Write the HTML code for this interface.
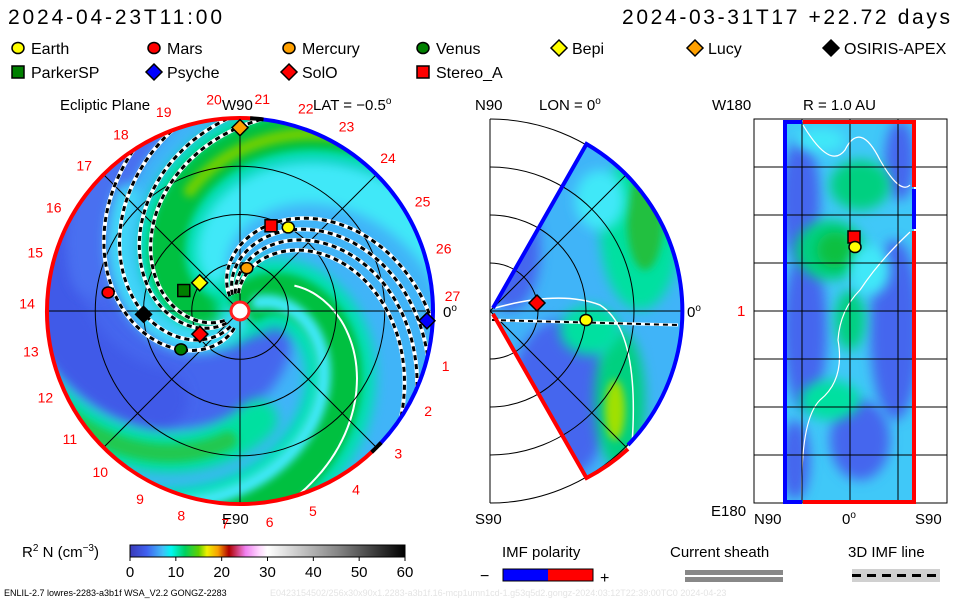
<!DOCTYPE html>
<html><head><meta charset="utf-8"><style>
html,body{margin:0;padding:0;background:#fff;}
svg{display:block;font-family:"Liberation Sans",sans-serif;}
</style></head><body>
<svg id="s" width="960" height="600" viewBox="0 0 960 600" xmlns="http://www.w3.org/2000/svg">
<defs>
 <clipPath id="discClip"><circle cx="240" cy="311" r="193"/></clipPath>
 <clipPath id="wedgeClip"><path d="M490,311 L586.5,143.9 A193,193 0 0 1 586.5,478.1 Z"/></clipPath>
 <clipPath id="rectClip"><rect x="785" y="122" width="129" height="380"/></clipPath>
 <linearGradient id="cbar" x1="0" x2="1" y1="0" y2="0">
  <stop offset="0" stop-color="#3a3ab8"/><stop offset="0.06" stop-color="#4060f0"/>
  <stop offset="0.12" stop-color="#40c0f8"/><stop offset="0.15" stop-color="#00f8f0"/>
  <stop offset="0.2" stop-color="#00d060"/><stop offset="0.25" stop-color="#60d000"/>
  <stop offset="0.28" stop-color="#f0f000"/><stop offset="0.32" stop-color="#f8a000"/>
  <stop offset="0.36" stop-color="#b00000"/><stop offset="0.42" stop-color="#f080f0"/>
  <stop offset="0.47" stop-color="#ffd8ff"/><stop offset="0.5" stop-color="#ffffff"/>
  <stop offset="0.75" stop-color="#888888"/><stop offset="1" stop-color="#000000"/>
 </linearGradient>
 <filter id="blur6" filterUnits="userSpaceOnUse" x="0" y="0" width="960" height="600"><feGaussianBlur stdDeviation="6"/></filter>
 <filter id="blur4" filterUnits="userSpaceOnUse" x="0" y="0" width="960" height="600"><feGaussianBlur stdDeviation="4"/></filter>
</defs>

<text x="8" y="24" font-size="21" textLength="214">2024-04-23T11:00</text>
<text x="622" y="24" font-size="21" textLength="328">2024-03-31T17 +22.72 days</text>

<g id="legend"></g>

<g id="ecl">
 <g clip-path="url(#discClip)" id="eclFill">
  <circle cx="240" cy="311" r="193" fill="#40b4f8"/>
 </g>
</g>
<g id="mer"></g>
<g id="sph"></g>

<g font-size="15">
 <text x="60" y="110">Ecliptic Plane</text>
 <text x="313" y="110">LAT = −0.5<tspan font-size="10" dy="-6">o</tspan></text>
 <text x="222" y="110">W90</text>
 <text x="222" y="524">E90</text>
 <text x="443" y="317">0<tspan font-size="10" dy="-6">o</tspan></text>
 <text x="475" y="110">N90</text>
 <text x="539" y="110">LON = 0<tspan font-size="10" dy="-6">o</tspan></text>
 <text x="475" y="524">S90</text>
 <text x="687" y="317">0<tspan font-size="10" dy="-6">o</tspan></text>
 <text x="712" y="110">W180</text>
 <text x="803" y="110">R = 1.0 AU</text>
 <text x="737" y="316" fill="#f00">1</text>
 <text x="711" y="516">E180</text>
 <text x="754" y="524">N90</text>
 <text x="842" y="524">0<tspan font-size="10" dy="-6">o</tspan></text>
 <text x="915" y="524">S90</text>
</g>

<g id="cbarG">
 <text x="22" y="557" font-size="15">R<tspan font-size="10" dy="-6">2</tspan><tspan dy="6"> N (cm</tspan><tspan font-size="10" dy="-6">−3</tspan><tspan dy="6">)</tspan></text>
 <rect x="130" y="545" width="275" height="12" fill="url(#cbar)" stroke="#000" stroke-width="1"/>
</g>

<g>
 <text x="502" y="557" font-size="15">IMF polarity</text>
 <text x="480" y="581" font-size="16">−</text>
 <rect x="503" y="569" width="45" height="12" fill="#0000ff"/>
 <rect x="548" y="569" width="45" height="12" fill="#ff0000"/>
 <rect x="503" y="569" width="90" height="12" fill="none" stroke="#000"/>
 <text x="600" y="583" font-size="16">+</text>
</g>
<g>
 <text x="670" y="557" font-size="15">Current sheath</text>
 <rect x="685" y="570" width="98" height="5" fill="#888"/>
 <rect x="685" y="577" width="98" height="5" fill="#888"/>
</g>
<g>
 <text x="848" y="557" font-size="15">3D IMF line</text>
 <rect x="852" y="569" width="88" height="13" fill="#d0d0d0"/>
 <line x1="852" y1="575.5" x2="940" y2="575.5" stroke="#000" stroke-width="3" stroke-dasharray="9,6"/>
</g>
<text x="4" y="596" font-size="9">ENLIL-2.7 lowres-2283-a3b1f WSA_V2.2 GONGZ-2283</text>
<text x="270" y="596" font-size="9" fill="#e4e4e4">E0423154502/256x30x90x1.2283-a3b1f.16-mcp1umn1cd-1.g53q5d2.gongz-2024:03:12T22:39:00TC0    2024-04-23</text>
</svg>

<script>
// ---- data ----
const bodyNames = ["Earth","Mars","Mercury","Venus","Bepi","Lucy","OSIRIS-APEX","ParkerSP","Psyche","SolO","Stereo_A"];
const bodyShapes = ["circle","circle","circle","circle","diamond","diamond","diamond","square","diamond","diamond","square"];
const bodyColors = ["#ffff00","#ff0000","#ffa000","#008000","#ffff00","#ffa000","#000000","#008000","#0000ff","#ff0000","#ff0000"];
const bodyRadiusAU = [1.0,1.38,0.45,0.73,0.51,1.9,1.0,0.62,1.94,0.48,0.94];
const bodyLonDeg = [60,172,81,213,145,90,182,160,-3,210,70];
const carrLabels = ["1","2","3","4","5","6","7","8","9","10","11","12","13","14","15","16","17","18","19","20","21","22","23","24","25","26","27"];
const carrLabelAngle = [-15,-28,-42,-57,-70,-82,-94,-106,-118,-131,-143,-156,-169,178,164,151,137,124,111,97,84,72,60,46,31,17,4];
const cbarTicks = [0,10,20,30,40,50,60];
const imfLonStartsLeft = [95,108,125,135];
const imfLonStartsRight = [222,232,242,252];

const NS="http://www.w3.org/2000/svg";
const svg=document.getElementById('s');
function mk(tag,attrs,parent){const e=document.createElementNS(NS,tag);for(const k in attrs)e.setAttribute(k,attrs[k]);(parent||svg).appendChild(e);return e;}
const CX=240,CY=311,R=193,PXAU=96.5;
const xAU=(au,lon)=>CX+au*PXAU*Math.cos(lon*Math.PI/180);
const yAU=(au,lon)=>CY-au*PXAU*Math.sin(lon*Math.PI/180);
const xCb=v=>130+v/60*275;

function marker(shape,color,x,y,parent,name){
  let e;
  if(shape==="circle") e=mk('ellipse',{cx:x,cy:y,rx:6,ry:5.5,fill:color,stroke:'#000','stroke-width':1.5},parent);
  else if(shape==="square") e=mk('rect',{x:x-6,y:y-6,width:12,height:12,fill:color,stroke:'#000','stroke-width':1.5},parent);
  else e=mk('path',{d:`M${x},${y-8}L${x+8},${y}L${x},${y+8}L${x-8},${y}Z`,fill:color,stroke:'#000','stroke-width':1.5},parent);
  
  
  return e;
}

// legend
const lg=document.getElementById('legend');
const legX=[18,154,289,423,559,695,831];
bodyNames.forEach((n,i)=>{
  const row=i<7?0:1, col=i<7?i:i-7;
  const x=legX[col], y=row?72:48;
  marker(bodyShapes[i],bodyColors[i],x,y,lg,'legend-marker-'+n.toLowerCase());
  const t=mk('text',{x:x+13,y:y+6,'font-size':16},lg);t.textContent=n;
  
  
});

// ecliptic fill: spiral bands
const ef=document.getElementById('eclFill');
function spiralPath(phi0,r1,r2){let d='';for(let r=r1;r<=r2;r+=3){const p=(phi0+r*0.733)*Math.PI/180;d+=(d?'L':'M')+(CX+r*Math.cos(p)).toFixed(1)+','+(CY+r*Math.sin(p)).toFixed(1);}return d;}
function band(phi0,r1,r2,w,col,blur){const e=mk('path',{d:spiralPath(phi0,r1,r2),fill:'none',stroke:col,'stroke-width':w,'stroke-linecap':'round'},ef);if(blur)e.setAttribute('filter','url(#'+blur+')');return e;}
band(65,30,240,100,'#4466ee','blur6');
band(45,120,240,60,'#3f5ae8','blur6');
band(85,150,240,50,'#4a70f0','blur6');
band(190,40,240,45,'#40e8f8','blur6');
band(0,110,240,40,'#00e0a0','blur6');
band(0,130,240,18,'#20c850','blur4');
band(150,15,240,60,'#00e0b0','blur6');
band(150,15,240,36,'#00c040','blur4');
band(152,130,220,12,'#70d000','blur4');
band(-55,15,240,70,'#00e0b0','blur6');
band(-55,15,240,42,'#00c040','blur4');
band(-40,20,200,14,'#40e8f8','blur4');
band(108,10,160,26,'#40d8f8','blur6');
// white current sheath line
mk('path',{d:spiralPath(-69,60,200),fill:'none',stroke:'#fff','stroke-width':2},ef);
// grid
const gr=mk('g',{stroke:'#000','stroke-width':1,fill:'none'},svg);
[0.5,1,1.5].forEach(a=>mk('circle',{cx:CX,cy:CY,r:a*PXAU},gr));
[0,45,90,135].forEach(a=>{const c=Math.cos(a*Math.PI/180)*R,s=Math.sin(a*Math.PI/180)*R;mk('line',{x1:CX-c,y1:CY-s,x2:CX+c,y2:CY+s},gr);});
// IMF dashed lines
const imf=mk('g',{'clip-path':'url(#discClip)'},svg);
imfLonStartsLeft.concat(imfLonStartsRight).forEach(p=>{
  const d=spiralPath(p,18,200);
  mk('path',{d,fill:'none',stroke:'#fff','stroke-width':4},imf);
  mk('path',{d,fill:'none',stroke:'#000','stroke-width':3,'stroke-dasharray':'5,4'},imf);
});
// rim
const rim=mk('g',{fill:'none','stroke-width':4},svg);
function arc(a1,a2,r){const p1=[CX+r*Math.cos(a1*Math.PI/180),CY+r*Math.sin(a1*Math.PI/180)],p2=[CX+r*Math.cos(a2*Math.PI/180),CY+r*Math.sin(a2*Math.PI/180)];const large=((a2-a1+360)%360)>180?1:0;return `M${p1[0]},${p1[1]}A${r},${r} 0 ${large} 1 ${p2[0]},${p2[1]}`;}
mk('path',{d:arc(-84,44,R),stroke:'#0000ff'},rim);
mk('path',{d:arc(46,-86,R),stroke:'#ff0000'},rim);
mk('path',{d:arc(-87,-83,R),stroke:'#000'},rim);
mk('path',{d:arc(43,47,R),stroke:'#000'},rim);
// sun
mk('circle',{cx:CX,cy:CY,r:9,fill:'#fff',stroke:'#ff2020','stroke-width':3,});
// carrington labels
const cl=mk('g',{'font-size':14,fill:'#ff0000','text-anchor':'middle'},svg);
carrLabels.forEach((l,i)=>{const a=carrLabelAngle[i]*Math.PI/180;const t=mk('text',{x:(CX+213*Math.cos(a)).toFixed(1),y:(CY-213*Math.sin(a)+5).toFixed(1)},cl);t.textContent=l;});
// bodies
bodyNames.forEach((n,i)=>marker(bodyShapes[i],bodyColors[i],xAU(bodyRadiusAU[i],bodyLonDeg[i]),yAU(bodyRadiusAU[i],bodyLonDeg[i]),svg,'body-'+n.toLowerCase()));

// meridional panel
const mer=document.getElementById('mer');
mk('line',{x1:490,y1:119,x2:490,y2:503,stroke:'#000'},mer);
const mg=mk('g',{'clip-path':'url(#wedgeClip)'},mer);
mk('rect',{x:480,y:130,width:220,height:360,fill:'#40b4f8'},mg);
mk('ellipse',{cx:560,cy:400,rx:50,ry:80,fill:'#4466ee',filter:'url(#blur6)'},mg);
mk('ellipse',{cx:510,cy:250,rx:30,ry:60,fill:'#4466ee',filter:'url(#blur6)'},mg);
mk('ellipse',{cx:640,cy:230,rx:40,ry:80,fill:'#00e0a0',filter:'url(#blur6)'},mg);
mk('ellipse',{cx:645,cy:220,rx:18,ry:50,fill:'#20c040',filter:'url(#blur4)'},mg);
mk('ellipse',{cx:600,cy:200,rx:25,ry:30,fill:'#40e8f8',filter:'url(#blur6)'},mg);
mk('ellipse',{cx:620,cy:400,rx:25,ry:70,fill:'#00d080',filter:'url(#blur6)'},mg);
mk('ellipse',{cx:615,cy:410,rx:10,ry:30,fill:'#a0e000',filter:'url(#blur4)'},mg);
mk('ellipse',{cx:590,cy:330,rx:30,ry:25,fill:'#00e0a0',filter:'url(#blur6)'},mg);
mk('path',{d:'M495,308 Q560,290 600,305 Q640,330 632,445',fill:'none',stroke:'#fff','stroke-width':1.5},mg);
const mgr=mk('g',{stroke:'#000','stroke-width':1,fill:'none'},mer);
[48,96,144,192].forEach(r=>mk('path',{d:`M490,${311-r} A${r},${r} 0 0 1 490,${311+r}`},mgr));
[45,-45].forEach(a=>mk('line',{x1:490,y1:311,x2:490+193*Math.cos(a*Math.PI/180),y2:311-193*Math.sin(a*Math.PI/180)},mgr));
mk('line',{x1:490,y1:311,x2:683,y2:311,stroke:'#000'},mer);
mk('line',{x1:492,y1:320,x2:678,y2:325,stroke:'#fff','stroke-width':3},mer);
mk('line',{x1:492,y1:320,x2:678,y2:325,stroke:'#000','stroke-width':2,'stroke-dasharray':'5,4'},mer);
mk('path',{d:'M493,308 L586.5,144 A193,193 0 0 1 628,445',fill:'none',stroke:'#0000ff','stroke-width':4},mer);
mk('path',{d:'M628,449 A193,193 0 0 1 586.5,478 L493,314',fill:'none',stroke:'#ff0000','stroke-width':4},mer);
marker('diamond','#ff0000',537,303,mer,'meridional-solo');
marker('circle','#ffff00',586,320,mer,'meridional-earth');

// sphere panel
const sph=document.getElementById('sph');
mk('rect',{x:754,y:119,width:193,height:384,fill:'none',stroke:'#000'},sph);
const sg=mk('g',{'clip-path':'url(#rectClip)'},sph);
mk('rect',{x:785,y:122,width:129,height:380,fill:'#40c8f8'},sg);
[[800,200,20,60,'#4466ee'],[805,330,22,80,'#4466ee'],[895,330,25,90,'#4466ee'],[900,160,15,40,'#4466ee'],[860,440,30,40,'#4466ee'],[795,460,15,40,'#4466ee'],
 [830,250,35,30,'#00d080'],[835,250,18,18,'#10c040'],[860,185,30,25,'#00d080'],[850,320,15,30,'#00d080'],[870,270,20,25,'#40e8f8'],[830,400,30,20,'#00e0a0'],[820,140,25,12,'#40e8f8']]
 .forEach(b=>mk('ellipse',{cx:b[0],cy:b[1],rx:b[2],ry:b[3],fill:b[4],filter:'url(#blur6)'},sg));
mk('path',{d:'M803,125 Q830,170 845,150 Q860,120 880,160 Q900,195 910,185',fill:'none',stroke:'#fff','stroke-width':1.2},sg);
mk('path',{d:'M910,232 Q880,260 860,290 Q840,310 838,340 Q845,380 820,400 Q800,420 802,500',fill:'none',stroke:'#fff','stroke-width':1.2},sg);
const sgr=mk('g',{stroke:'#000','stroke-width':1},sph);
[167,215,263,311,359,407,455].forEach(y=>mk('line',{x1:754,y1:y,x2:947,y2:y},sgr));
[802,850,898].forEach(x=>mk('line',{x1:x,y1:119,x2:x,y2:503},sgr));
const se=mk('g',{'stroke-width':4,fill:'none'},sph);
mk('path',{d:'M802,122 L785,122 L785,502 L802,502',stroke:'#0000ff'},se);
mk('path',{d:'M803,122 L914,122 L914,187',stroke:'#ff0000'},se);
mk('path',{d:'M914,189 L914,229',stroke:'#0000ff'},se);
mk('path',{d:'M914,231 L914,502 L803,502',stroke:'#ff0000'},se);
marker('square','#ff0000',854,237,sph,'sphere-stereo-a');
marker('circle','#ffff00',855,247,sph,'sphere-earth');

// colorbar ticks
const cb=document.getElementById('cbarG');
cbarTicks.forEach(v=>{const t=mk('text',{x:xCb(v),y:577,'font-size':15,'text-anchor':'middle'},cb);t.textContent=v;
 mk('line',{x1:xCb(v),y1:557,x2:xCb(v),y2:561,stroke:'#000'},cb);});
</script>
</body></html>
